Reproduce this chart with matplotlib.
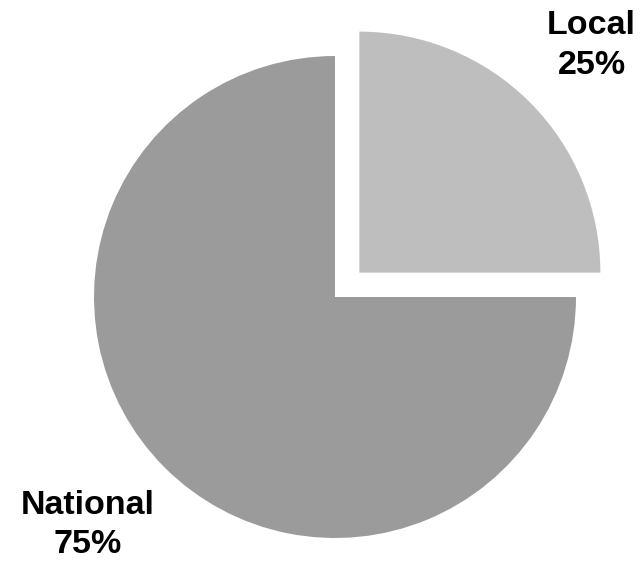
import matplotlib
matplotlib.use("Agg")
import matplotlib.pyplot as plt

categories = ["Local", "National"]
values = [25, 75]
colors = ["#bebebe", "#9b9b9b"]
explode = [0.143, 0.0]

plt.rcParams['font.family'] = ['Liberation Sans', 'DejaVu Sans']

fig = plt.figure(figsize=(6.42, 5.61), dpi=100)
ax = fig.add_axes([0, 0, 1, 1])
ax.pie(values, colors=colors, explode=explode, startangle=90,
       counterclock=False, radius=1.0, wedgeprops=dict(linewidth=0))

R = 241.0
ax.set_xlim(-335 / R, (642 - 335) / R)
ax.set_ylim(-264 / R, 297 / R)
ax.set_aspect('auto')
ax.axis('off')

def px(x, y):
    return (x - 335) / R, (297 - y) / R

for cat, val, (x, y) in zip(categories, values, [(591.5, 45.5), (87.5, 525)]):
    ax.text(*px(x, y), f"{cat}\n{val}%", ha='center', va='center',
            fontsize=24.5, fontweight='bold', linespacing=1.36, color='black')

fig.savefig("out.png", dpi=100)
